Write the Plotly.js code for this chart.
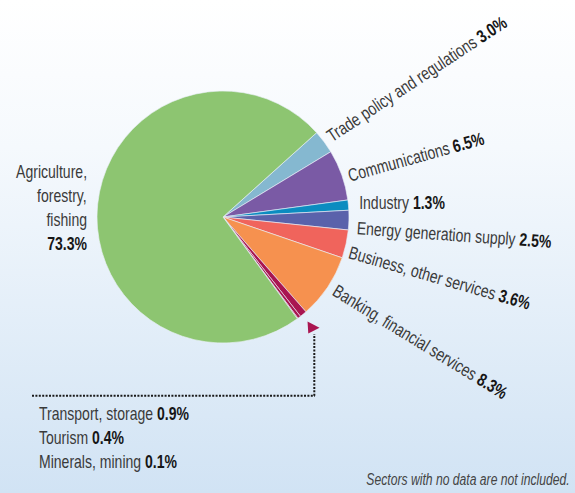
<!DOCTYPE html>
<html>
<head>
<meta charset="utf-8">
<script src="https://cdn.plot.ly/plotly-3.0.1.min.js"></script>
<style>
  html, body { margin: 0; padding: 0; }
  #chart { width: 575px; height: 493px;
    background: linear-gradient(to bottom, #ffffff 0%, #f5f9fd 30%, #d1e3f4 100%); }
</style>
</head>
<body>
<div id="chart"></div>
<script>
// ---- data ----
const sectors = ['Trade policy and regulations', 'Communications', 'Industry',
  'Energy generation supply', 'Business, other services', 'Banking, financial services',
  'Transport, storage', 'Tourism', 'Minerals, mining', 'Agriculture, forestry, fishing'];
const shares = [3.0, 6.5, 1.3, 2.5, 3.6, 8.3, 0.9, 0.4, 0.1, 73.3];
const sliceColors = ['#85b8d0', '#7a5aa5', '#0b8cc0', '#5a62ab', '#f0645c', '#f6914f',
  '#a91550', '#a91550', '#a91550', '#8dc571'];
const footnote = 'Sectors with no data are not included.';

// ---- helpers (pixel -> paper) ----
const W = 575, H = 493;
const px = x => x / W;
const py = y => 1 - y / H;
const FONT = 'Liberation Sans, Arial, sans-serif';
const nameColor = '#3a3a3a', valColor = '#161616';
const fmt = v => v.toFixed(1) + '%';
const bold = s => '<b><span style="color:' + valColor + '">' + s + '</span></b>';
const lab = i => sectors[i] + ' ' + bold(fmt(shares[i]));

const trace = {
  type: 'pie',
  values: shares,
  labels: sectors,
  sort: false,
  direction: 'clockwise',
  rotation: 48,
  textinfo: 'none',
  hoverinfo: 'label+percent',
  marker: { colors: sliceColors, line: { color: 'rgba(235,241,248,0.9)', width: 0.7 } },
  domain: { x: [px(97), px(349)], y: [py(343), py(91)] }
};

function ann(text, x, y, angle, xanchor) {
  const xa = xanchor || 'center';
  return { text: text, x: px(x), y: py(y), xref: 'paper', yref: 'paper',
    showarrow: false, textangle: angle || 0, xanchor: xa, align: xa, yanchor: 'middle',
    font: { family: FONT, size: 18, color: nameColor } };
}

const annotations = [
  ann(lab(0), 417, 79, -33.5),
  ann(lab(1), 416.5, 157, -15.6),
  ann(lab(2), 402, 203, 0),
  ann(lab(3), 453.6, 235, 4),
  ann(lab(4), 439, 278, 16),
  ann(lab(5), 420, 342, 31.5),
  ann('Agriculture,', 89, 171.5, 0, 'right'),
  ann('forestry,', 89, 195.5, 0, 'right'),
  ann('fishing', 89, 219.5, 0, 'right'),
  ann(bold(fmt(shares[9])), 89, 243.5, 0, 'right'),
  ann(lab(6), 37, 413.5, 0, 'left'),
  ann(lab(7), 37, 438, 0, 'left'),
  ann(lab(8), 37, 462, 0, 'left'),
  { text: '<i>' + footnote + '</i>', x: px(572), y: py(479.5),
    xref: 'paper', yref: 'paper', showarrow: false, xanchor: 'right', align: 'right', yanchor: 'middle',
    font: { family: FONT, size: 16, color: '#444' } }
];
// horizontal condensing of each annotation (to mimic the condensed typeface)
const condense = [0.78, 0.78, 0.78, 0.78, 0.78, 0.78, 0.78, 0.78, 0.78, 0.78, 0.78, 0.78, 0.78, 0.76];

const dotLine = { color: '#1a1a1a', width: 2, dash: '2px,1.4px' };
const shapes = [
  { type: 'line', xref: 'paper', yref: 'paper', x0: px(32), x1: px(315), y0: py(395.7), y1: py(395.7), line: dotLine },
  { type: 'line', xref: 'paper', yref: 'paper', x0: px(314.3), x1: px(314.3), y0: py(395.7), y1: py(334), line: dotLine },
  { type: 'path', xref: 'paper', yref: 'paper',
    path: 'M ' + px(307.5) + ' ' + py(321.5) + ' L ' + px(319.5) + ' ' + py(327.7) + ' L ' + px(308.3) + ' ' + py(333.5) + ' Z',
    fillcolor: '#a91550', line: { width: 0 } }
];

const layout = {
  width: W, height: H,
  margin: { l: 0, r: 0, t: 0, b: 0 },
  showlegend: false,
  paper_bgcolor: 'rgba(0,0,0,0)',
  plot_bgcolor: 'rgba(0,0,0,0)',
  annotations: annotations,
  shapes: shapes
};

Plotly.newPlot('chart', [trace], layout, { displayModeBar: false, staticPlot: true }).then(gd => {
  gd.querySelectorAll('.annotation').forEach(g => {
    const idx = +g.getAttribute('data-index');
    const t = g.querySelector('.annotation-text');
    if (!t) return;
    const ax = parseFloat(t.getAttribute('x')) || 0;
    const s = condense[idx];
    t.setAttribute('transform', 'translate(' + ax + ',0) scale(' + s + ',1) translate(' + (-ax) + ',0)');
  });
});
</script>
</body>
</html>
